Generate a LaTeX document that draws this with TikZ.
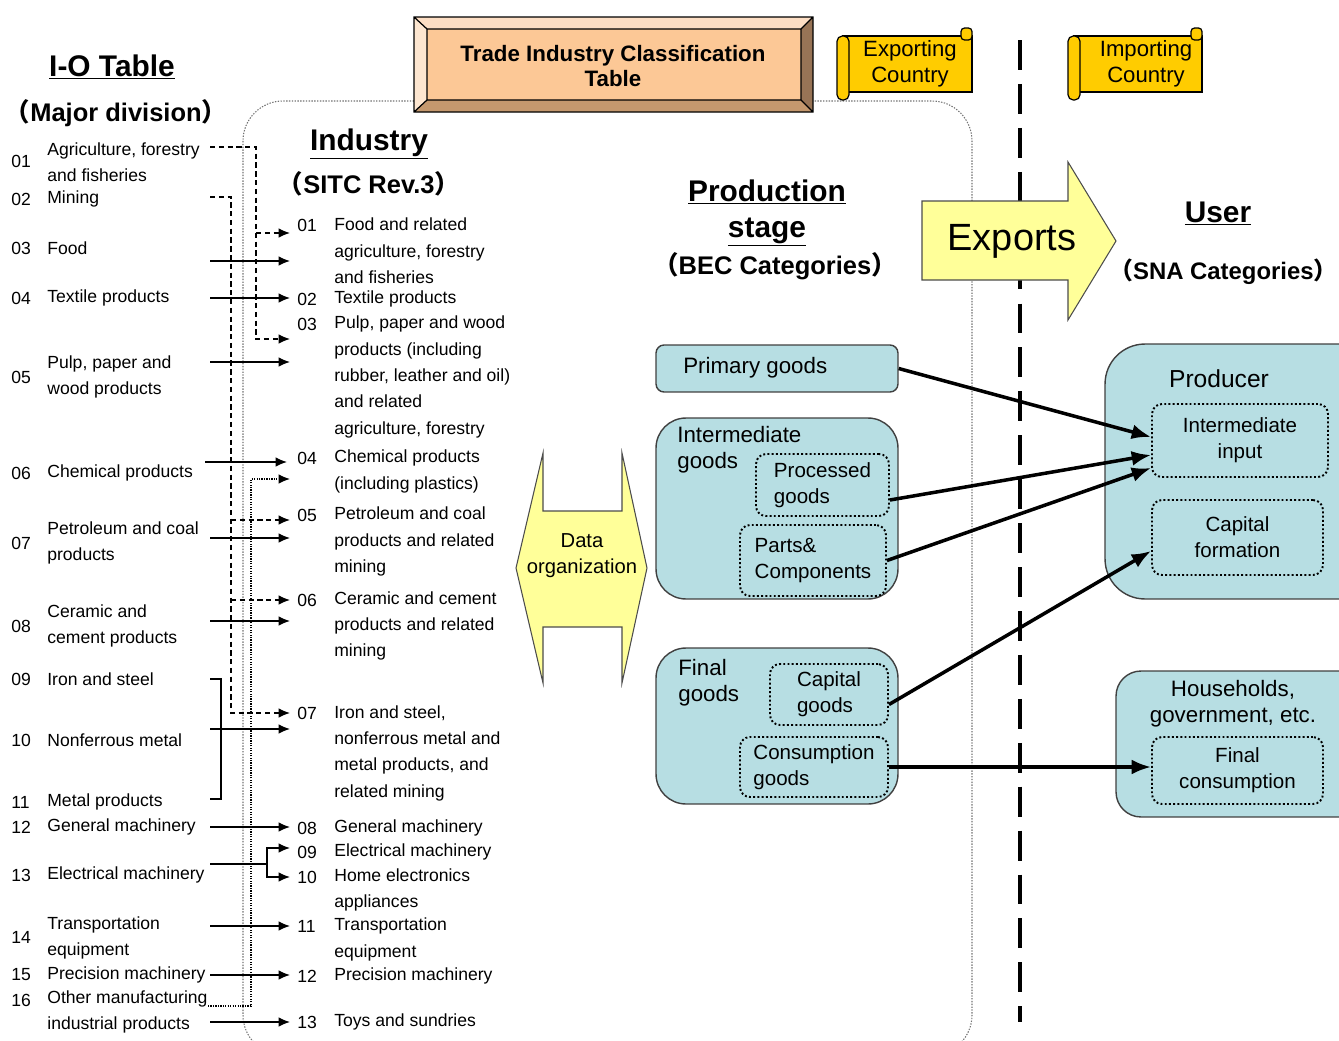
\documentclass[tikz,border=0pt]{standalone}
\usepackage{fontspec}
\setmainfont{Liberation Sans}
\newfontfamily\cjk{Noto Sans CJK JP}
\usetikzlibrary{calc,arrows.meta,positioning}
\definecolor{goodsTeal}{RGB}{183,222,227}
\definecolor{paleYellow}{RGB}{255,255,153}
\definecolor{scrollGold}{RGB}{255,204,0}
\definecolor{tableFace}{RGB}{252,200,150}
\definecolor{tableTop}{RGB}{253,222,196}
\definecolor{tableLeft}{RGB}{253,230,208}
\definecolor{tableRight}{RGB}{152,116,86}
\definecolor{tableBottom}{RGB}{196,152,110}
\newcommand{\lp}{{\cjk （}}
\newcommand{\rp}{{\cjk ）}}
\tikzset{
myIoText/.style={
	anchor=west, inner sep=0pt, align=left,
	font=\fontsize{10}{15}\selectfont
}
, myHeading/.style={
	anchor=base, inner sep=0pt,
	font=\fontsize{17}{20}\selectfont\bfseries
}
, mySubHeading/.style={
	anchor=base, inner sep=0pt,
	font=\fontsize{14.5}{17}\selectfont\bfseries
}
, myGoods/.style={
	draw=black!75, fill=goodsTeal, line width=0.8pt,
	rounded corners=0.6cm, inner sep=0pt
}
, myGoodsText/.style={
	inner sep=0pt, align=left,
	font=\fontsize{12.7}{14.7}\selectfont
}
, myDotBox/.style={
	draw=black, line width=1.1pt, dash pattern=on 1.1pt off 1.3pt,
	rounded corners=0.2cm, inner sep=0pt, align=left,
	font=\fontsize{11.7}{14.7}\selectfont
}
, myScroll/.style={draw=black, fill=scrollGold, line width=0.7pt}
, myScrollText/.style={
	inner sep=0pt, align=center,
	font=\fontsize{12.6}{14.7}\selectfont
}
% link
, myIoArrow/.style={-{Latex[length=6.5pt,width=5.5pt]}, line width=0.8pt}
, myIoDashed/.style={myIoArrow, dash pattern=on 3pt off 2pt}
, myIoDotted/.style={myIoArrow, dash pattern=on 0.7pt off 0.7pt}
, myFlow/.style={-{Latex[length=11pt,width=8.5pt]}, line width=2pt}
}
\begin{document}
\begin{tikzpicture}[x=0.02cm, y=-0.02cm]
	\useasboundingbox (0,0) rectangle (1339,1041);
	\clip (0,0) rectangle (1339,1041);
	% frame and border
	\draw[black!55, line width=0.6pt, dash pattern=on 0.8pt off 0.8pt, rounded corners=0.8cm]
		(243,101) rectangle (972,1055);
	\draw[line width=2.3pt, dash pattern=on 17pt off 8pt] (1020,40) -- (1020,1022);
	\draw[fill=paleYellow, draw=black!70, line width=0.6pt]
		(922,201) -- (1068,201) -- (1068,162) -- (1116,241) -- (1068,320)
		-- (1068,280) -- (922,280) -- cycle;
	\node[font=\fontsize{21.6}{24}\selectfont, inner sep=0pt] (exports) at (1012,241) {Exports};

	% trade industry classification table
	\fill[tableTop] (414,17) -- (813,17) -- (801,29) -- (427,29) -- cycle;
	\fill[tableLeft] (414,17) -- (427,29) -- (427,100) -- (414,112) -- cycle;
	\fill[tableRight] (813,17) -- (813,112) -- (801,100) -- (801,29) -- cycle;
	\fill[tableBottom] (414,112) -- (813,112) -- (801,100) -- (427,100) -- cycle;
	\fill[tableFace] (427,29) rectangle (801,100);
	\draw[line width=0.7pt] (414,17) rectangle (813,112) (427,29) rectangle (801,100)
		(414,17) -- (427,29) (813,17) -- (801,29) (414,112) -- (427,100) (813,112) -- (801,100);
	\node[inner sep=0pt, align=center, font=\fontsize{12.7}{14.7}\selectfont\bfseries]
		(tict) at (613,66) {Trade Industry Classification\\Table};

	% scrolls
	\foreach \nm/\xa/\xb/\tx/\txt in {exporting/837/972/910/Exporting, importing/1068/1202/1146/Importing}{
		\draw[myScroll] (\xa+6,36) rectangle (\xb,92);
		\draw[myScroll, rounded corners=2pt] (\xb-11,28) rectangle (\xb,40);
		\draw[myScroll, rounded corners=3pt] (\xa,36) rectangle (\xa+12,100);
		\node[myScrollText] (\nm) at (\tx,64) {\txt\\Country};
	}

	% headings
	\node[myHeading] (ioHead) at (112,76) {\underline{I-O Table}};
	\node[mySubHeading] (ioSub) at (116,121) {\lp Major division\rp};
	\node[myHeading] (sitcHead) at (369,150) {\underline{Industry}};
	\node[mySubHeading] (sitcSub) at (369,193) {\lp SITC Rev.3\rp};
	\node[myHeading] (becHead) at (767,201) {\underline{Production}};
	\node[myHeading] (becHead2) at (767,237) {\underline{stage}};
	\node[mySubHeading] (becSub) at (775,274) {\lp BEC Categories\rp};
	\node[myHeading] (snaHead) at (1218,222) {\underline{User}};
	\node[mySubHeading, anchor=base east, font=\fontsize{13.6}{17}\selectfont\bfseries]
		(snaSub) at (1326,279) {\lp SNA Categories\rp\kern-0.5em};

	% I-O table nodes
	\foreach \n/\ny/\ty/\txt in {
		01/161/162/{Agriculture, forestry\\and fisheries},
		02/199/199/Mining,
		03/248/248/Food,
		04/298/298/Textile products,
		05/377/377/{Pulp, paper and\\wood products},
		06/473/473/Chemical products,
		07/543/543/{Petroleum and coal\\products},
		08/626/626/{Ceramic and\\cement products},
		09/679/679/Iron and steel,
		10/740/740/Nonferrous metal,
		11/802/802/Metal products,
		12/827/827/General machinery,
		13/875/875/Electrical machinery,
		14/937/938/{Transportation\\equipment},
		15/975/975/Precision machinery,
		16/1000/1012/{Other manufacturing\\industrial products}}{
		\node[myIoText] (ion\n) at (11,\ny) {\n};
		\node[myIoText] (io\n) at (47,\ty) {\txt};
	}

	% SITC nodes
	\foreach \n/\ny/\ty/\txt in {
		01/225/251/{Food and related\\agriculture, forestry\\and fisheries},
		02/299/299/Textile products,
		03/324/377/{Pulp, paper and wood\\products (including\\rubber, leather and oil)\\and related\\agriculture, forestry},
		04/458/471.5/{Chemical products\\(including plastics)},
		05/515/541.5/{Petroleum and coal\\products and related\\mining},
		06/600/626/{Ceramic and cement\\products and related\\mining},
		07/713/753/{Iron and steel,\\nonferrous metal and\\metal products, and\\related mining},
		08/828/828/General machinery,
		09/852/852/Electrical machinery,
		10/877/890/{Home electronics\\appliances},
		11/926/939.5/{Transportation\\equipment},
		12/976/976/Precision machinery,
		13/1022/1022/Toys and sundries}{
		\node[myIoText] (sitcn\n) at (297,\ny) {\n};
		\node[myIoText] (sitc\n) at (334,\ty) {\txt};
	}

	% links I-O -> SITC
	\foreach \n/\y in {03/261, 04/298, 05/362, 07/538, 08/621, 09/729, 12/827, 14/926, 15/975, 16/1022}{
		\coordinate (s\n) at (210,\y);
		\coordinate (t\n) at (290,\y);
		\draw[myIoArrow] (s\n) -- (t\n);
	}
	\coordinate (s06) at (205,462);
	\coordinate (t06) at (287,462);
	\draw[myIoArrow] (s06) -- (t06);
	% bracket 09-11
	\coordinate (b09) at (210,679);
	\coordinate (b11) at (210,799);
	\draw[line width=0.8pt] (b09) -- ++(11,0) |- (b11);
	% electrical machinery fork
	\coordinate (s13) at (210,864);
	\coordinate (fork13) at (267,864);
	\coordinate (t13a) at (290,848);
	\coordinate (t13b) at (290,877);
	\draw[line width=0.8pt] (s13) -- (fork13);
	\draw[myIoArrow] (fork13) |- (t13a);
	\draw[myIoArrow] (fork13) |- (t13b);
	% agriculture and mining
	\coordinate (s01) at (210,147);
	\coordinate (k01) at (256,147);
	\coordinate (d01) at (290,233);
	\coordinate (d03) at (290,339);
	\draw[myIoDashed] (s01) -- (k01) |- (d03);
	\draw[myIoDashed] (k01 |- d01) -- (d01);
	\coordinate (s02) at (210,197);
	\coordinate (k02) at (231,197);
	\coordinate (d05) at (290,520);
	\coordinate (d06) at (290,600);
	\coordinate (d07) at (290,713);
	\draw[myIoDashed] (s02) -- (k02) |- (d07);
	\draw[myIoDashed] (k02 |- d05) -- (d05);
	\draw[myIoDashed] (k02 |- d06) -- (d06);
	% other manufacturing
	\coordinate (s16b) at (208,1006);
	\coordinate (k16) at (251,1006);
	\coordinate (d04) at (290,479);
	\draw[myIoDotted] (s16b) -- (k16) |- (d04);

	% data organization
	\draw[fill=paleYellow, draw=black!70, line width=0.6pt]
		(543,453) -- (543,511) -- (622,511) -- (622,453) -- (647,568) -- (622,683)
		-- (622,627) -- (543,627) -- (543,683) -- (516,568) -- cycle;
	\node[inner sep=0pt, align=center, font=\fontsize{11.5}{14.7}\selectfont] (dorg) at (582,556) {Data\\organization};

	% production stage
	\node[myGoods, rounded corners=0.16cm, minimum width=4.84cm, minimum height=0.94cm] (prim) at (777,368.5) {};
	\node[myGoodsText, anchor=west] (primText) at (683,368) {Primary goods};
	\node[myGoods, minimum width=4.84cm, minimum height=3.62cm] (inter) at (777,508.5) {};
	\node[myGoodsText, anchor=west] (interText) at (677,450) {Intermediate\\goods};
	\node[myDotBox, minimum width=2.66cm, minimum height=1.24cm] (proc) at (822.5,485) {Processed\\goods};
	\node[myDotBox, minimum width=2.92cm, minimum height=1.42cm] (parts) at (813,560.5) {Parts\&\\Components};
	\node[myGoods, minimum width=4.84cm, minimum height=3.12cm] (final) at (777,726) {};
	\node[myGoodsText, anchor=west] (finalText) at (678,683) {Final\\goods};
	\node[myDotBox, minimum width=2.36cm, minimum height=1.22cm] (capg) at (829,694.5) {Capital\\goods};
	\node[myDotBox, minimum width=2.96cm, minimum height=1.2cm] (cons) at (814,767) {Consumption\\goods};

	% user
	\node[myGoods, rounded corners=0.8cm, minimum width=5.5cm, minimum height=5.1cm] (producer) at (1242.5,471.5) {};
	\node[myGoodsText, font=\fontsize{14}{16}\selectfont] (producerText) at (1219,379) {Producer};
	\node[myDotBox, align=center, minimum width=3.52cm, minimum height=1.46cm] (intin) at (1240,440.5) {Intermediate\\input};
	\node[myDotBox, align=center, minimum width=3.42cm, minimum height=1.5cm] (capf) at (1237.5,537.5) {Capital\\formation};
	\node[myGoods, rounded corners=0.5cm, minimum width=5.28cm, minimum height=2.92cm] (house) at (1248,744) {};
	\node[myGoodsText, align=center] (houseText) at (1233,704) {Households,\\government, etc.};
	\node[myDotBox, align=center, minimum width=3.42cm, minimum height=1.34cm] (fcons) at (1237.5,770.5) {Final\\consumption};

	% links goods -> user
	\draw[myFlow] (prim.east) -- ($(intin.west)+(0,-3.5)$);
	\draw[myFlow] ($(proc.east)+(0,15)$) -- ($(intin.west)+(0,14.5)$);
	\draw[myFlow] (parts.east) -- ($(intin.west)+(0,27.5)$);
	\draw[myFlow] ($(capg.east)+(0,10)$) -- ($(capf.west)+(0,13.5)$);
	\draw[myFlow] (cons.east) -- ($(fcons.west)+(0,-3.5)$);
\end{tikzpicture}
\end{document}
